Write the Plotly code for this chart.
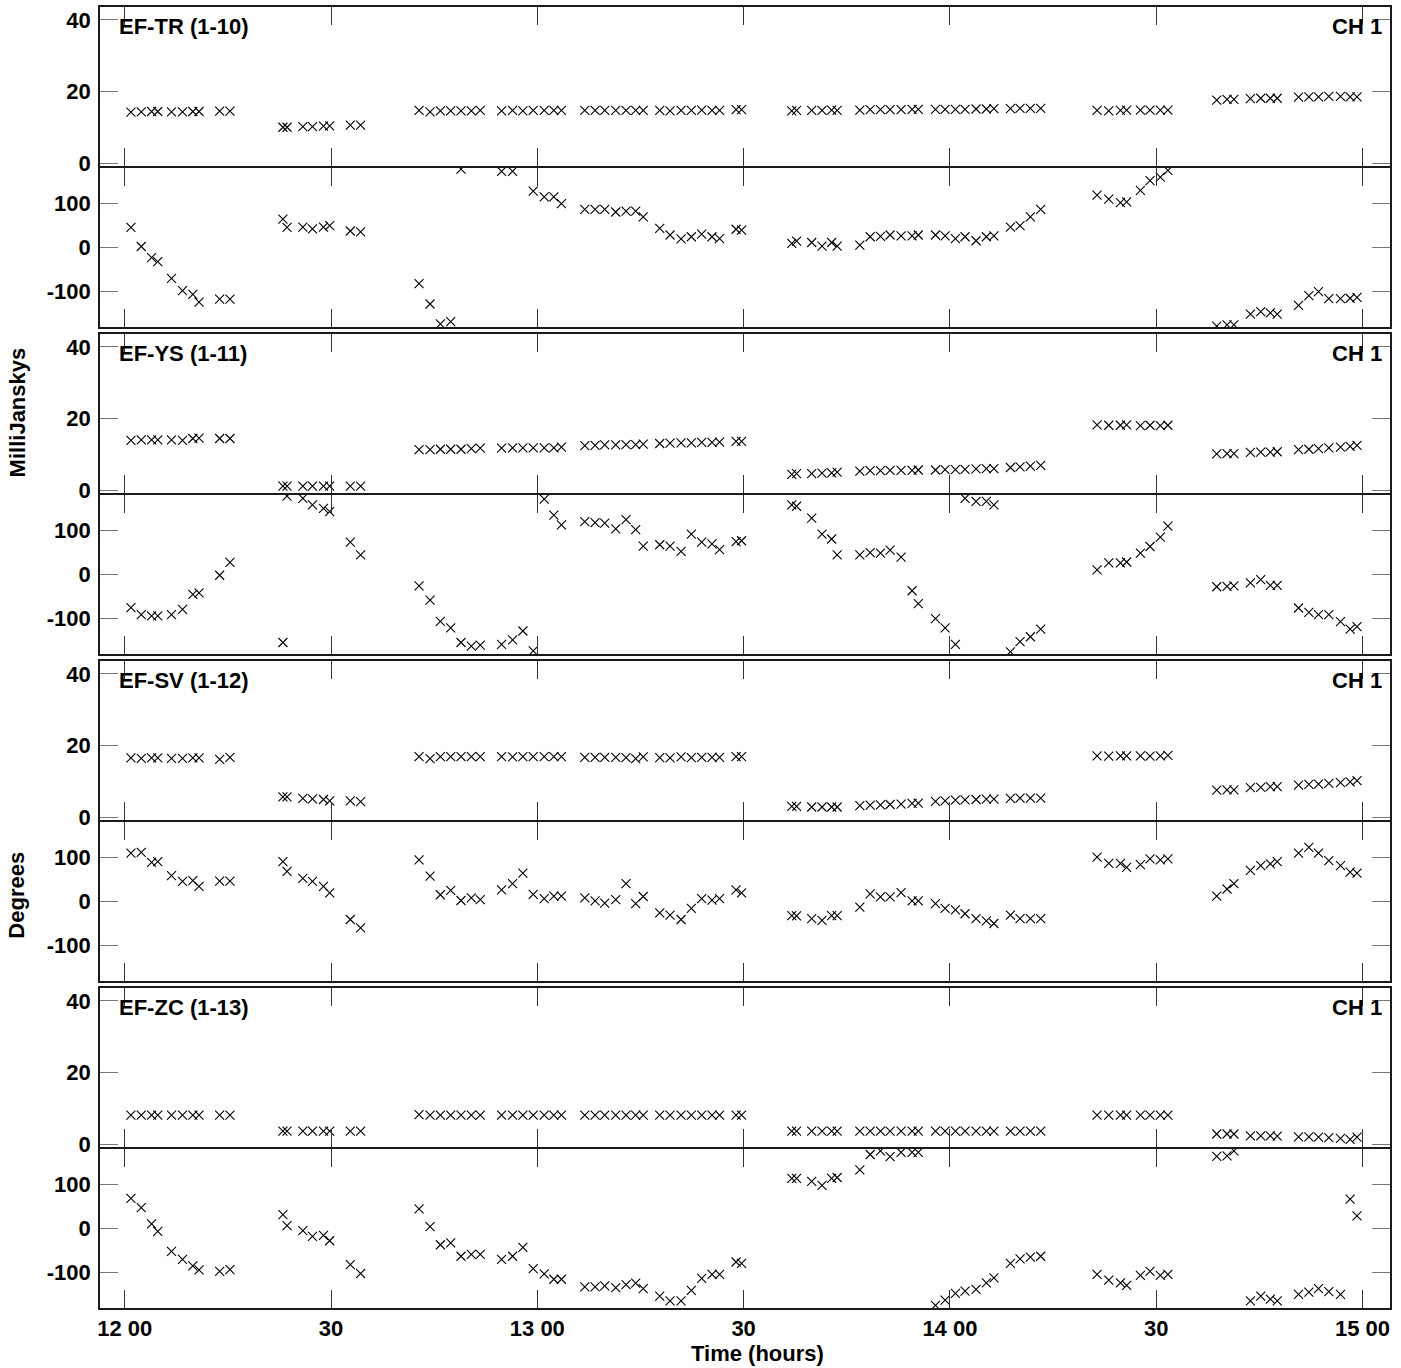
import plotly.graph_objects as go

# ---------------- data (minutes after 12:00 UT) ----------------
times = [0.9, 2.4, 3.9, 4.8, 6.8, 8.4, 9.9, 10.8, 13.8, 15.3,
         23.0, 23.6, 25.9, 27.3, 28.9, 29.8, 32.8, 34.3,
         42.8, 44.4, 45.9, 47.4, 48.9, 50.4, 51.7,
         54.8, 56.4, 57.9, 59.4, 61.0, 62.4, 63.5,
         66.9, 68.4, 69.8, 71.4, 72.9, 74.3, 75.4,
         77.8, 79.3, 80.9, 82.4, 83.9, 85.4, 86.5,
         88.9, 89.7,
         97.0, 97.7, 99.9, 101.4, 102.8, 103.6,
         106.9, 108.4, 109.9, 111.3, 112.9, 114.5, 115.4,
         117.9, 119.3, 120.8, 122.2, 123.8, 125.3, 126.4,
         128.8, 130.2, 131.7, 133.2,
         141.4, 143.1, 144.8, 145.7, 147.7, 149.1, 150.6, 151.7,
         158.8, 160.3, 161.3,
         163.7, 165.2, 166.6, 167.6,
         170.7, 172.2, 173.6, 175.1, 176.8, 178.2, 179.2]

baseline_labels = ["EF-TR (1-10)", "EF-YS (1-11)", "EF-SV (1-12)", "EF-ZC (1-13)"]
channel_label = "CH 1"

amp_tr = [14.2, 14.3, 14.4, 14.4, 14.3, 14.3, 14.4, 14.4, 14.5, 14.5,
          10.0, 10.0, 10.2, 10.2, 10.3, 10.4, 10.6, 10.6,
          14.7, 14.3, 14.6, 14.6, 14.6, 14.6, 14.7,
          14.6, 14.7, 14.6, 14.7, 14.7, 14.7, 14.7,
          14.7, 14.7, 14.7, 14.7, 14.7, 14.7, 14.7,
          14.7, 14.6, 14.7, 14.7, 14.8, 14.7, 14.7,
          14.9, 14.9,
          14.6, 14.7, 14.7, 14.7, 14.8, 14.7,
          14.8, 14.9, 14.9, 14.9, 14.9, 15.0, 15.0,
          15.0, 15.0, 15.0, 15.0, 15.1, 15.1, 15.2,
          15.2, 15.3, 15.3, 15.3,
          14.7, 14.6, 14.7, 14.8, 14.8, 14.8, 14.8, 14.8,
          17.6, 17.8, 17.8,
          18.0, 18.1, 18.1, 18.1,
          18.4, 18.5, 18.5, 18.6, 18.6, 18.5, 18.5]
pha_tr = [45, 2, -23, -32, -70, -98, -106, -124, -117, -117,
          64, 45, 46, 42, 46, 49, 37, 35,
          -82, -128, -173, -168, 177, None, None,
          172, 172, None, 127, 114, 114, 99,
          86, 86, 86, 80, 82, 82, 69,
          43, 28, 19, 24, 30, 24, 20,
          41, 39,
          9, 14, 11, 3, 11, 3,
          5, 24, 25, 28, 26, 26, 28,
          28, 26, 20, 24, 15, 24, 26,
          46, 49, 69, 86,
          118, 109, 101, 103, 129, 151, 159, 174,
          -178, -175, -175,
          -151, -145, -148, -151,
          -131, -109, -100, -116, -116, -115, -113]

amp_ys = [13.9, 14.0, 14.0, 14.0, 14.0, 13.9, 14.4, 14.5, 14.4, 14.4,
          1.1, 1.1, 1.1, 1.1, 1.1, 1.1, 1.1, 1.1,
          11.3, 11.3, 11.4, 11.4, 11.4, 11.6, 11.7,
          11.7, 11.8, 11.8, 11.8, 11.8, 11.8, 12.0,
          12.4, 12.5, 12.6, 12.6, 12.7, 12.7, 12.8,
          13.0, 13.1, 13.2, 13.2, 13.3, 13.3, 13.4,
          13.6, 13.6,
          4.4, 4.6, 4.6, 4.7, 4.8, 5.0,
          5.3, 5.4, 5.4, 5.5, 5.5, 5.5, 5.6,
          5.6, 5.7, 5.7, 5.8, 5.9, 6.0, 6.0,
          6.3, 6.5, 6.7, 6.9,
          18.2, 18.1, 18.1, 18.2, 18.0, 18.1, 18.0, 18.1,
          10.1, 10.2, 10.2,
          10.5, 10.6, 10.6, 10.7,
          11.3, 11.4, 11.6, 11.8, 12.0, 12.2, 12.5]
pha_ys = [-75, -91, -94, -94, -91, -79, -45, -42, -2, 27,
          -154, 177, 172, 157, 149, 142, 73, 44,
          -26, -58, -106, -121, -154, -162, -160,
          -158, -148, -128, -173, 170, 134, 112,
          119, 117, 116, 103, 124, 101, 64,
          67, 64, 52, 91, 73, 69, 56,
          74, 76,
          157, 154, 127, 91, 80, 44,
          44, 49, 48, 55, 39, -37, -66,
          -100, -121, -158, 172, 165, 165, 157,
          -175, -152, -141, -124,
          10, 26, 26, 28, 48, 63, 84, 109,
          -28, -27, -26,
          -19, -12, -25, -25,
          -76, -86, -91, -91, -107, -124, -118]

amp_sv = [16.5, 16.4, 16.5, 16.5, 16.4, 16.4, 16.5, 16.5, 16.1, 16.7,
          5.6, 5.6, 5.2, 5.1, 4.9, 4.5, 4.5, 4.3,
          16.9, 16.3, 16.9, 16.9, 16.9, 16.9, 16.9,
          16.9, 16.8, 16.9, 16.9, 16.9, 16.9, 16.9,
          16.7, 16.7, 16.7, 16.7, 16.6, 16.3, 16.8,
          16.6, 16.5, 16.8, 16.6, 16.7, 16.7, 16.7,
          16.9, 16.9,
          3.0, 3.0, 2.8, 2.8, 2.8, 2.8,
          3.2, 3.3, 3.4, 3.5, 3.6, 3.8, 3.9,
          4.4, 4.5, 4.7, 4.8, 4.9, 5.0, 5.0,
          5.2, 5.3, 5.3, 5.3,
          17.1, 17.0, 17.1, 17.1, 17.1, 17.0, 17.1, 17.2,
          7.5, 7.6, 7.6,
          8.2, 8.3, 8.5, 8.5,
          8.9, 9.1, 9.2, 9.4, 9.6, 9.8, 10.2]
pha_sv = [109, 111, 88, 90, 58, 45, 47, 34, 46, 46,
          90, 68, 52, 45, 34, 19, -41, -60,
          94, 57, 15, 25, 2, 8, 4,
          26, 40, 64, 16, 6, 12, 12,
          8, 1, -4, 4, 40, -5, 11,
          -26, -31, -41, -16, 6, 3, 6,
          26, 19,
          -32, -33, -39, -43, -32, -32,
          -13, 17, 10, 10, 20, 1, 1,
          -5, -16, -19, -28, -39, -44, -50,
          -31, -39, -39, -39,
          100, 86, 86, 77, 83, 96, 94, 96,
          12, 28, 40,
          70, 81, 85, 90,
          109, 122, 109, 92, 81, 66, 64]

amp_zc = [8.1, 8.1, 8.1, 8.1, 8.1, 8.1, 8.1, 8.1, 8.1, 8.1,
          3.6, 3.6, 3.6, 3.6, 3.6, 3.6, 3.6, 3.6,
          8.2, 8.1, 8.1, 8.1, 8.1, 8.1, 8.1,
          8.1, 8.1, 8.1, 8.1, 8.1, 8.1, 8.1,
          8.1, 8.1, 8.1, 8.1, 8.1, 8.1, 8.1,
          8.1, 8.1, 8.1, 8.1, 8.1, 8.1, 8.1,
          8.1, 8.1,
          3.6, 3.6, 3.6, 3.6, 3.6, 3.6,
          3.6, 3.6, 3.6, 3.6, 3.6, 3.6, 3.6,
          3.6, 3.6, 3.6, 3.6, 3.6, 3.6, 3.6,
          3.6, 3.6, 3.6, 3.6,
          8.1, 8.1, 8.1, 8.1, 8.1, 8.1, 8.1, 8.1,
          2.8, 2.8, 2.8,
          2.3, 2.3, 2.3, 2.2,
          2.0, 2.0, 1.9, 1.8, 1.6, 1.3, 1.9]
pha_zc = [68, 47, 10, -7, -52, -70, -85, -94, -97, -93,
          31, 6, -5, -18, -16, -28, -82, -102,
          44, 4, -37, -33, -63, -59, -59,
          -70, -63, -43, -91, -103, -115, -115,
          -132, -132, -130, -134, -127, -124, -136,
          -153, -164, -164, -140, -113, -104, -104,
          -76, -79,
          113, 113, 106, 97, 113, 115,
          132, 167, 175, 162, 172, 172, 172,
          -174, -162, -147, -142, -138, -123, -112,
          -79, -69, -65, -63,
          -104, -117, -123, -129, -106, -97, -106, -104,
          163, 164, 175,
          -164, -153, -160, -164,
          -149, -144, -136, -143, -149, 66, 28]

amps = [amp_tr, amp_ys, amp_sv, amp_zc]
phases = [pha_tr, pha_ys, pha_sv, pha_zc]

x_tickvals = [0, 30, 60, 90, 120, 150, 180]
x_ticktext = ["12 00", "30", "13 00", "30", "14 00", "30", "15 00"]
amp_tickvals = [0, 20, 40]
amp_ticktext = ["0", "20", "40"]
pha_tickvals = [-100, 0, 100]
pha_ticktext = ["-100", "0", "100"]

# ---------------- layout geometry ----------------
W, H = 1401, 1368
ML, MR, MT, MB = 100, 11, 5, 60
PH = H - MT - MB
PW = W - ML - MR


def py(pix):
    return (H - MB - pix) / PH


def px(pix):
    return (pix - ML) / PW


FONT = "Liberation Sans, Arial, Helvetica, sans-serif"
tfont = dict(family=FONT, size=22, color="black", weight="bold")

fig = go.Figure()
layout = dict(
    width=W, height=H,
    margin=dict(l=ML, r=MR, t=MT, b=MB),
    paper_bgcolor="white", plot_bgcolor="white",
    showlegend=False,
    font=dict(family=FONT, size=22, color="black"),
)

annotations = []
for k in range(4):
    amp_top = MT + 327.5 * k
    amp_bot = amp_top + 159.5
    ph_top = amp_bot + 1.5
    ph_bot = ph_top + 159.5
    for j, (vals, dom, ytv, ytt, yrng) in enumerate([
            (amps[k], [py(amp_bot), py(amp_top)], amp_tickvals, amp_ticktext, [-0.9, 43.6]),
            (phases[k], [py(ph_bot), py(ph_top)], pha_tickvals, pha_ticktext, [-180, 180])]):
        i = 2 * k + j + 1
        sx = "" if i == 1 else str(i)
        fig.add_trace(go.Scatter(
            x=times, y=vals, mode="markers",
            xaxis="x" + sx, yaxis="y" + sx,
            marker=dict(symbol="x-thin", size=9, color="black",
                        line=dict(color="black", width=1.1)),
            cliponaxis=True, hoverinfo="skip"))
        layout["xaxis" + sx] = dict(
            domain=[0, 1], anchor="y" + sx,
            range=[-3.6, 184.0], tickvals=x_tickvals, ticktext=x_ticktext,
            ticks="inside", ticklen=18, tickwidth=1, tickcolor="#333",
            showline=True, linecolor="#1a1a1a", linewidth=1.6, mirror="allticks",
            showgrid=False, zeroline=False,
            showticklabels=(i == 8), tickfont=tfont, ticklabelstandoff=0,
            **({} if i == 1 else {"matches": "x"}))
        layout["yaxis" + sx] = dict(
            domain=dom, anchor="x" + sx, range=yrng, tickvals=ytv, ticktext=ytt,
            ticks="inside", ticklen=18, tickwidth=1, tickcolor="#777",
            showline=True, linecolor="#1a1a1a", linewidth=1.6, mirror="allticks",
            showgrid=False, zeroline=False, tickfont=tfont, ticklabelstandoff=3)
    ylab = py(amp_top + 20)
    annotations.append(dict(text=baseline_labels[k], x=px(117), y=ylab,
                            xref="paper", yref="paper", xanchor="left", yanchor="middle",
                            showarrow=False, font=tfont))
    annotations.append(dict(text=channel_label, x=px(1384), y=ylab,
                            xref="paper", yref="paper", xanchor="right", yanchor="middle",
                            showarrow=False, font=tfont))

annotations.append(dict(text="MilliJanskys", x=px(17), y=py(411), textangle=-90,
                        xref="paper", yref="paper", xanchor="center", yanchor="middle",
                        showarrow=False, font=tfont))
annotations.append(dict(text="Degrees", x=px(17), y=py(894), textangle=-90,
                        xref="paper", yref="paper", xanchor="center", yanchor="middle",
                        showarrow=False, font=tfont))
annotations.append(dict(text="Time (hours)", x=px(758), y=py(1354),
                        xref="paper", yref="paper", xanchor="center", yanchor="middle",
                        showarrow=False, font=tfont))
layout["annotations"] = annotations
fig.update_layout(**layout)
fig.write_html("out.html", config={"displayModeBar": False},
               post_script="document.body.style.margin='0';document.body.style.overflow='hidden';")
